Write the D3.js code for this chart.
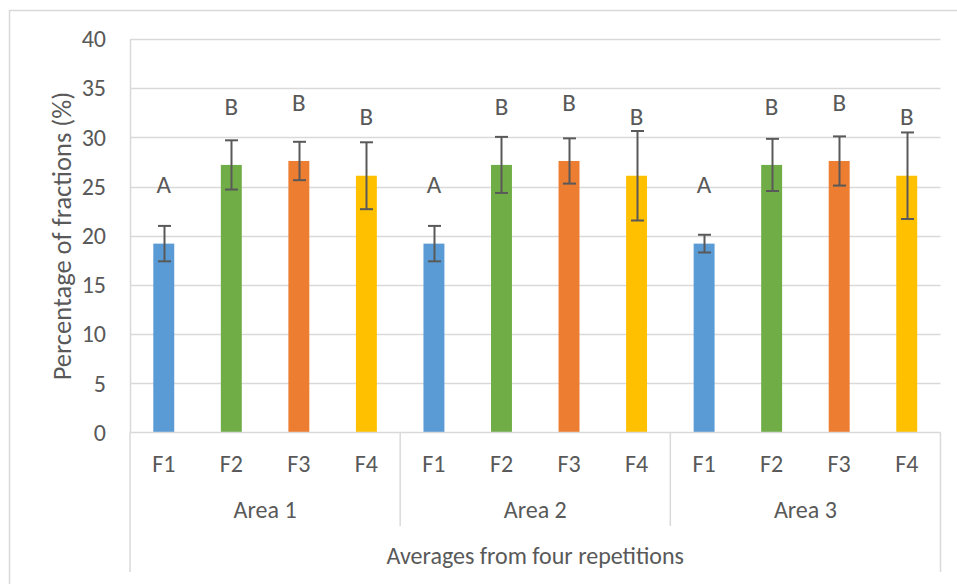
<!DOCTYPE html>
<html>
<head>
<meta charset="utf-8">
<script src="https://cdn.jsdelivr.net/npm/d3@7"></script>
<style>
  html, body { margin: 0; padding: 0; background: #fff; }
  svg { display: block; }
  text { font-family: Carlito, Calibri, Lato, "Open Sans", sans-serif; fill: #595959; }
</style>
</head>
<body>
<svg id="chart" width="957" height="584"></svg>
<script>
// Category levels
const areas = ["Area 1", "Area 2", "Area 3"];
const fractions = ["F1", "F2", "F3", "F4"];

// Mean percentage of each fraction per area
const area1Mean = [19.2, 27.2, 27.6, 26.1];
const area2Mean = [19.2, 27.2, 27.6, 26.1];
const area3Mean = [19.2, 27.2, 27.6, 26.1];

// Error bar half-widths (±)
const area1Err = [1.8, 2.5, 1.95, 3.4];
const area2Err = [1.8, 2.85, 2.3, 4.55];
const area3Err = [0.9, 2.65, 2.5, 4.4];

// Significance groups
const groupLetters = ["A", "B", "B", "B"];

const yTicks = [0, 5, 10, 15, 20, 25, 30, 35, 40];
const fractionColors = ["#5B9BD5", "#70AD47", "#ED7D31", "#FFC000"];

const yTitle = "Percentage of fractions (%)";
const xTitle = "Averages from four repetitions";

const means = [area1Mean, area2Mean, area3Mean];
const errs = [area1Err, area2Err, area3Err];
const rows = [];
areas.forEach((a, i) => fractions.forEach((f, j) => rows.push({
  area: a, fraction: f, mean: means[i][j], err: errs[i][j], letter: groupLetters[j], color: fractionColors[j]
})));

const svg = d3.select("#chart");
const gridColor = "#D9D9D9";
const plot = { left: 130, right: 940.5, top: 39, bottom: 432.5 };
const labelSize = "24px";

// Chart area frame
svg.append("path")
  .attr("d", "M9.5,584 V10.5 H957")
  .attr("fill", "none").attr("stroke", gridColor).attr("stroke-width", 1.5);

const y = d3.scaleLinear().domain([0, 40]).range([plot.bottom, plot.top]);
const x0 = d3.scaleBand().domain(areas).range([plot.left, plot.right]).padding(0);
const x1 = d3.scaleBand().domain(fractions).range([0, x0.bandwidth()]).padding(0);
const barW = x1.bandwidth() * 0.31;

// Horizontal gridlines
svg.append("g").selectAll("line").data(yTicks.filter(d => d > 0)).join("line")
  .attr("x1", plot.left).attr("x2", plot.right)
  .attr("y1", d => Math.round(y(d)) + 0.5).attr("y2", d => Math.round(y(d)) + 0.5)
  .attr("stroke", gridColor).attr("stroke-width", 1.5);

// Y axis
const yAxis = svg.append("g").attr("transform", `translate(${plot.left},0)`)
  .call(d3.axisLeft(y).tickValues(yTicks).tickSize(0).tickPadding(24));
yAxis.select(".domain").attr("stroke", gridColor).attr("stroke-width", 1.5);
yAxis.selectAll("text").style("font-size", labelSize).attr("fill", "#595959")
  .style("font-family", "Carlito, Calibri, Lato, sans-serif");

// Bars
const bars = svg.append("g");
bars.selectAll("rect").data(rows).join("rect")
  .attr("x", d => x0(d.area) + x1(d.fraction) + (x1.bandwidth() - barW) / 2)
  .attr("width", barW)
  .attr("y", d => y(d.mean))
  .attr("height", d => y(0) - y(d.mean))
  .attr("fill", d => d.color);

// Category axis (multi-level)
const axisG = svg.append("g");
axisG.append("line").attr("x1", plot.left).attr("x2", plot.right)
  .attr("y1", plot.bottom).attr("y2", plot.bottom)
  .attr("stroke", gridColor).attr("stroke-width", 1.5);
axisG.append("line").attr("x1", plot.left).attr("x2", plot.left)
  .attr("y1", plot.bottom).attr("y2", 572)
  .attr("stroke", gridColor).attr("stroke-width", 1.5);
axisG.append("line").attr("x1", plot.right).attr("x2", plot.right)
  .attr("y1", plot.bottom).attr("y2", 572)
  .attr("stroke", gridColor).attr("stroke-width", 1.5);
axisG.selectAll("line.div").data(areas.slice(1)).join("line").attr("class", "div")
  .attr("x1", d => x0(d)).attr("x2", d => x0(d))
  .attr("y1", plot.bottom).attr("y2", 526)
  .attr("stroke", gridColor).attr("stroke-width", 1.5);

axisG.selectAll("text.frac").data(rows).join("text").attr("class", "frac")
  .attr("x", d => x0(d.area) + x1(d.fraction) + x1.bandwidth() / 2)
  .attr("y", 464).attr("dy", "0.35em")
  .attr("text-anchor", "middle")
  .style("font-size", labelSize)
  .text(d => d.fraction);

axisG.selectAll("text.area").data(areas).join("text").attr("class", "area")
  .attr("x", d => x0(d) + x0.bandwidth() / 2)
  .attr("y", 510).attr("dy", "0.35em")
  .attr("text-anchor", "middle")
  .style("font-size", labelSize)
  .text(d => d);

svg.append("text")
  .attr("x", (plot.left + plot.right) / 2).attr("y", 556).attr("dy", "0.35em")
  .attr("text-anchor", "middle")
  .style("font-size", labelSize)
  .text(xTitle);

// Y axis title
svg.append("text")
  .attr("transform", `translate(62,236) rotate(-90)`)
  .attr("dy", "0.35em")
  .attr("text-anchor", "middle")
  .style("font-size", "26.5px")
  .text(yTitle);

// Error bars
const eb = svg.append("g").attr("stroke", "#595959").attr("stroke-width", 2).attr("fill", "none");
rows.forEach(d => {
  const cx = Math.round(x0(d.area) + x1(d.fraction) + x1.bandwidth() / 2) + 0.5;
  const yt = y(d.mean + d.err), yb = y(d.mean - d.err);
  eb.append("line").attr("x1", cx).attr("x2", cx).attr("y1", yt).attr("y2", yb);
  eb.append("line").attr("x1", cx - 6.5).attr("x2", cx + 6.5).attr("y1", yt).attr("y2", yt);
  eb.append("line").attr("x1", cx - 6.5).attr("x2", cx + 6.5).attr("y1", yb).attr("y2", yb);
});

// Group letters, placed 6 units above each mean
svg.append("g").selectAll("text").data(rows).join("text")
  .attr("x", d => x0(d.area) + x1(d.fraction) + x1.bandwidth() / 2)
  .attr("y", d => y(d.mean + 6))
  .attr("dy", "0.35em")
  .attr("text-anchor", "middle")
  .style("font-size", "25px")
  .text(d => d.letter);
</script>
</body>
</html>
